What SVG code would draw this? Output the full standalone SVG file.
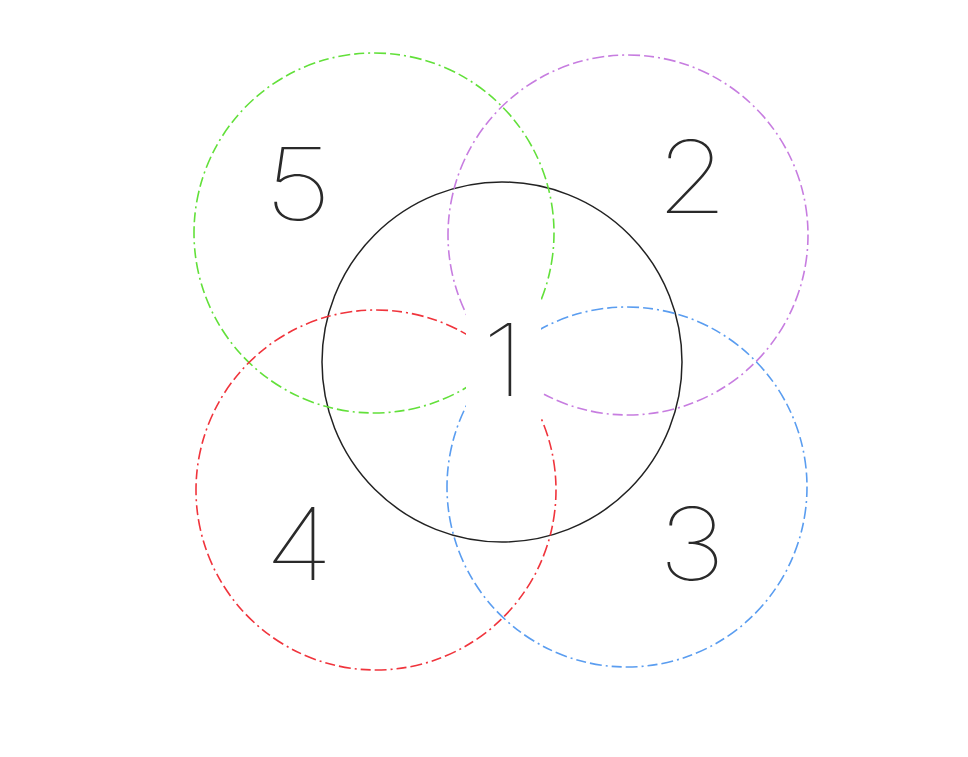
<svg xmlns="http://www.w3.org/2000/svg" width="968" height="757" viewBox="0 0 968 757">
<style>
.ring{fill:none;stroke-width:1.6;stroke-dasharray:10 4 2 4 12 4}
.lbl{font-family:Inter,"Open Sans","DejaVu Sans",sans-serif;font-weight:100;font-size:100px;fill:#2a2a2a;text-anchor:middle}
</style>
<defs>
<mask id="cut" maskUnits="userSpaceOnUse" x="0" y="0" width="968" height="757">
<rect x="0" y="0" width="968" height="757" fill="#fff"/>
<rect x="466" y="285" width="75" height="145" fill="#000"/>
</mask>
</defs>
<rect width="968" height="757" fill="#fff"/>
<g id="connectors"></g>
<g id="n1"><circle cx="502" cy="362" r="180" fill="none" stroke="#222" stroke-width="1.5"/><text class="lbl" transform="translate(503 396) scale(1.15 1)">1</text></g>
<g mask="url(#cut)">
<g id="n5"><circle class="ring" cx="374" cy="233" r="180" stroke="#62e03a"/></g>
<g id="n2"><circle class="ring" cx="628" cy="235" r="180" stroke="#c77de0"/></g>
<g id="n4"><circle class="ring" cx="376" cy="490" r="180" stroke="#f0343c"/></g>
<g id="n3"><circle class="ring" cx="627" cy="487" r="180" stroke="#5a9df0"/></g>
</g>
<text class="lbl" transform="translate(298 220) scale(1.2 1)">5</text>
<text class="lbl" transform="translate(692 213) scale(1.15 1)">2</text>
<text class="lbl" transform="translate(299 580) scale(1.15 1)">4</text>
<text class="lbl" transform="translate(692 580) scale(1.15 1)">3</text>
</svg>
